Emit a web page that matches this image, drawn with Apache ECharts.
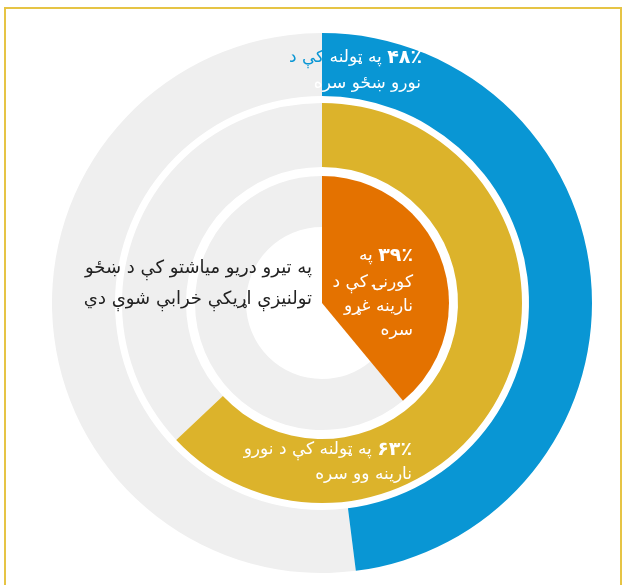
<!DOCTYPE html>
<html>
<head>
<meta charset="utf-8">
<script src="https://cdn.jsdelivr.net/npm/echarts@6/dist/echarts.min.js"></script>
<style>
html,body{margin:0;padding:0;background:#fff;}
#chart{width:624px;height:585px;}
</style>
</head>
<body>
<div id="chart"></div>
<script>
// Data
const rings = ['outer', 'middle', 'inner'];
const ringValues = [48, 63, 39];
const ringColors = ['#0996d4', '#dcb32b', '#e47200'];
const restColor = '#efefef';
// [inner radius of coloured part, inner radius of grey part, outer radius]
const ringRadii = [[207, 207, 270], [136, 136, 200], [0, 76, 127]];

const labelPercents = ['۴۸٪', '۶۳٪', '۳۹٪'];
const centerNote = ['په تیرو دریو میاشتو کې د ښځو', 'تولنيزې اړيکې خرابې شوې دي'];

const chart = echarts.init(document.getElementById('chart'), null, {renderer: 'canvas'});
const cx = 322, cy = 303;
const FONT = '"DejaVu Sans", "Noto Sans", sans-serif';

const series = [];
rings.forEach((name, i) => {
  const base = {
    type: 'pie',
    silent: true,
    center: [cx, cy],
    startAngle: 90,
    clockwise: true,
    label: {show: false},
    labelLine: {show: false},
    emphasis: {disabled: true},
    animation: false
  };
  series.push(Object.assign({}, base, {
    name: name + '-rest',
    radius: [ringRadii[i][1], ringRadii[i][2]],
    data: [
      {value: ringValues[i], itemStyle: {color: 'rgba(0,0,0,0)'}},
      {value: 100 - ringValues[i], itemStyle: {color: restColor}}
    ]
  }));
  series.push(Object.assign({}, base, {
    name: name,
    radius: [ringRadii[i][0], ringRadii[i][2]],
    data: [
      {value: ringValues[i], itemStyle: {color: ringColors[i]}},
      {value: 100 - ringValues[i], itemStyle: {color: 'rgba(0,0,0,0)'}}
    ]
  }));
});

const rich = {
  w: {fill: '#fff', fontSize: 17, fontFamily: FONT},
  b: {fill: '#0996d4', fontSize: 17, fontFamily: FONT},
  p: {fill: '#fff', fontSize: 19, fontWeight: 'bold', fontFamily: FONT}
};

chart.setOption({
  animation: false,
  series: series,
  graphic: [
    {type: 'rect', shape: {x: 5, y: 8, width: 616, height: 600}, style: {fill: 'none', stroke: '#e6c445', lineWidth: 2}, z: 100},
    // outer label
    {type: 'text', x: 422, y: 58, style: {text: '{b|کې د }{w|په ټولنه }{p|' + labelPercents[0] + '}', rich: rich, align: 'right', verticalAlign: 'middle'}, z: 10},
    {type: 'text', x: 421, y: 84, style: {text: 'نورو ښځو سره', fill: '#fff', fontSize: 17, fontFamily: FONT, align: 'right', verticalAlign: 'middle'}, z: 10},
    // middle label
    {type: 'text', x: 412, y: 450, style: {text: '{w|په ټولنه کې د نورو }{p|' + labelPercents[1] + '}', rich: rich, align: 'right', verticalAlign: 'middle'}, z: 10},
    {type: 'text', x: 412, y: 475, style: {text: 'نارینه وو سره', fill: '#fff', fontSize: 17, fontFamily: FONT, align: 'right', verticalAlign: 'middle'}, z: 10},
    // inner label
    {type: 'text', x: 413, y: 256, style: {text: '{w|په }{p|' + labelPercents[2] + '}', rich: rich, align: 'right', verticalAlign: 'middle'}, z: 10},
    {type: 'text', x: 413, y: 271, style: {text: 'کورنۍ کې د\nنارینه غړو\nسره', fill: '#fff', fontSize: 17, lineHeight: 24, fontFamily: FONT, align: 'right', verticalAlign: 'top'}, z: 10},
    // center note
    {type: 'text', x: 312, y: 253, style: {text: centerNote.join('\n'), fill: '#222', fontSize: 18, lineHeight: 31, fontFamily: FONT, align: 'right', verticalAlign: 'top'}, z: 10}
  ]
});
</script>
</body>
</html>
